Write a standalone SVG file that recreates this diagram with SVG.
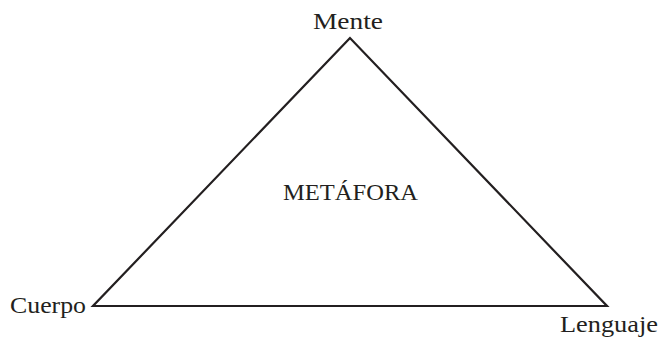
<svg xmlns="http://www.w3.org/2000/svg" width="661" height="339" viewBox="0 0 661 339">
<style>
text{font-family:"Liberation Serif","Times New Roman",serif;font-size:24px;fill:#231f20}
.edge{fill:none;stroke:#231f20;stroke-width:2.2;stroke-linejoin:miter}
</style>
<rect width="661" height="339" fill="#fff"/>
<g id="connectors">
<polygon class="edge" points="350,38 93,306 607,306"/>
</g>
<g id="mente"><text x="313" y="29" textLength="70" lengthAdjust="spacingAndGlyphs">Mente</text></g>
<g id="metafora"><text x="283" y="200" textLength="135" lengthAdjust="spacingAndGlyphs">METÁFORA</text></g>
<g id="cuerpo"><text x="10" y="313" textLength="76" lengthAdjust="spacingAndGlyphs">Cuerpo</text></g>
<g id="lenguaje"><text x="560" y="332" textLength="98" lengthAdjust="spacingAndGlyphs">Lenguaje</text></g>
</svg>
